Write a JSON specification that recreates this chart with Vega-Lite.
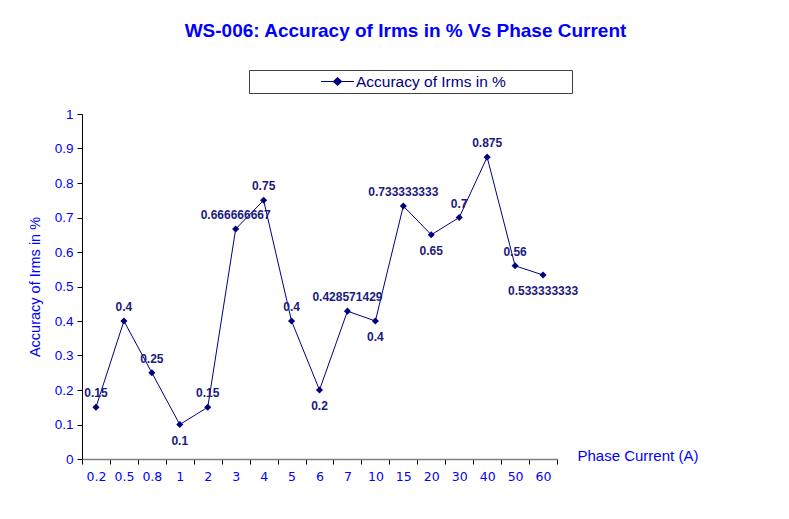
{
  "$schema": "https://vega.github.io/schema/vega-lite/v6.json",
  "width": 475,
  "height": 345,
  "autosize": {"type": "none"},
  "padding": {"left": 82, "top": 114, "right": 232, "bottom": 60},
  "background": "white",
  "title": {
    "text": "WS-006: Accuracy of Irms in % Vs Phase Current",
    "font": "Liberation Sans",
    "fontSize": 19,
    "fontWeight": "bold",
    "color": "#0000ff",
    "anchor": "middle",
    "dx": 86,
    "offset": 29
  },
  "data": {
    "values": [
      {"current": "0.2", "acc": 0.15},
      {"current": "0.5", "acc": 0.4},
      {"current": "0.8", "acc": 0.25},
      {"current": "1", "acc": 0.1},
      {"current": "2", "acc": 0.15},
      {"current": "3", "acc": 0.666666667},
      {"current": "4", "acc": 0.75},
      {"current": "5", "acc": 0.4},
      {"current": "6", "acc": 0.2},
      {"current": "7", "acc": 0.428571429},
      {"current": "10", "acc": 0.4},
      {"current": "15", "acc": 0.733333333},
      {"current": "20", "acc": 0.65},
      {"current": "30", "acc": 0.7},
      {"current": "40", "acc": 0.875},
      {"current": "50", "acc": 0.56},
      {"current": "60", "acc": 0.533333333}
    ]
  },
  "encoding": {
    "x": {
      "field": "current",
      "type": "nominal",
      "sort": null,
      "scale": {"type": "band", "paddingInner": 0, "paddingOuter": 0},
      "axis": {
        "title": "Phase Current (A)",
        "titleX": 495,
        "titleY": -4,
        "titleAlign": "left",
        "titleBaseline": "middle",
        "titleAngle": 0,
        "titleFont": "Liberation Sans",
        "titleFontSize": 15,
        "titleFontWeight": "normal",
        "titleColor": "#0000ff",
        "labelAngle": 0,
        "labelFont": "DejaVu Sans",
        "labelFontSize": 12.5,
        "labelColor": "#0000ff",
        "labelPadding": 6,
        "tickBand": "extent",
        "tickSize": 5,
        "tickColor": "#000000",
        "domainColor": "#808080",
        "domainWidth": 1.5,
        "grid": false
      }
    },
    "y": {
      "field": "acc",
      "type": "quantitative",
      "scale": {"domain": [0, 1]},
      "axis": {
        "title": "Accuracy of Irms in %",
        "titleFont": "Liberation Sans",
        "titleFontSize": 14.5,
        "titleFontWeight": "normal",
        "titleColor": "#0000ff",
        "titlePadding": 12,
        "values": [0, 0.1, 0.2, 0.3, 0.4, 0.5, 0.6, 0.7, 0.8, 0.9, 1],
        "format": "~g",
        "labelFont": "Liberation Sans",
        "labelFontSize": 13.5,
        "labelColor": "#0000ff",
        "labelPadding": 4,
        "labelFlush": false,
        "tickSize": 5,
        "tickColor": "#000000",
        "domainColor": "#000000",
        "grid": false
      }
    }
  },
  "layer": [
    {
      "mark": {"type": "line", "strokeWidth": 1, "color": "#000080"},
      "encoding": {
        "color": {
          "datum": "Accuracy of Irms in %",
          "type": "nominal",
          "scale": {"range": ["#000080"]},
          "legend": {
            "title": "\u00a0",
            "titleOrient": "right",
            "titlePadding": 63,
            "titleFontSize": 4,
            "orient": "none",
            "legendX": 167,
            "legendY": -44,
            "padding": 3,
            "strokeColor": "#404040",
            "fillColor": "white",
            "symbolType": "M-2.2,0L2.2,0M0,-0.5L0.53,0L0,0.5L-0.53,0Z",
            "symbolSize": 225,
            "symbolOffset": 77,
            "symbolStrokeWidth": 1.2,
            "symbolFillColor": "#000080",
            "symbolStrokeColor": "#5a5aa8",
            "labelOffset": 10,
            "labelFont": "Liberation Sans",
            "labelFontSize": 15.5,
            "labelColor": "#000080"
          }
        }
      }
    },
    {
      "mark": {"type": "point", "shape": "diamond", "size": 50, "filled": true, "color": "#000080", "opacity": 1}
    },
    {
      "transform": [
        {"window": [{"op": "lag", "field": "acc", "as": "prev"}, {"op": "lead", "field": "acc", "as": "next"}]},
        {"filter": "!(datum.prev != null && datum.acc < datum.prev && (datum.next == null || datum.acc < datum.next))"}
      ],
      "mark": {"type": "text", "font": "Liberation Sans", "fontSize": 12, "fontWeight": "bold", "color": "#1a1a80", "dy": -14},
      "encoding": {"text": {"field": "acc", "type": "quantitative"}}
    },
    {
      "transform": [
        {"window": [{"op": "lag", "field": "acc", "as": "prev"}, {"op": "lead", "field": "acc", "as": "next"}]},
        {"filter": "datum.prev != null && datum.acc < datum.prev && (datum.next == null || datum.acc < datum.next)"}
      ],
      "mark": {"type": "text", "font": "Liberation Sans", "fontSize": 12, "fontWeight": "bold", "color": "#1a1a80", "dy": 16},
      "encoding": {"text": {"field": "acc", "type": "quantitative"}}
    }
  ],
  "config": {"view": {"stroke": null}}
}
